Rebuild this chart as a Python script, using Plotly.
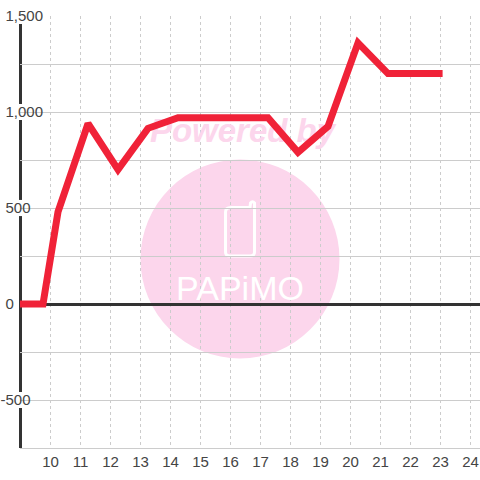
import plotly.graph_objects as go

hours = [8.88, 9.75, 10.25, 11.25, 12.25, 13.25, 14.25, 15.25, 16.25, 17.25, 18.25, 19.25, 20.25, 21.25, 22.25, 23.07]
values = [0, 0, 480, 940, 700, 915, 970, 970, 970, 970, 790, 925, 1360, 1200, 1200, 1200]
x_ticks = list(range(10, 25))
y_ticks = [-750, -500, -250, 0, 250, 500, 750, 1000, 1250, 1500]
NB = "\u00a0"
y_labels = ["", "-500" + NB * 3, "", "0" + NB * 7, "", "500" + NB * 3, "", "1,000", "", "1,500"]
boxed = {-500: 33, 0: 18, 500: 32, 1000: 45, 1500: 45}

W, H = 480, 480
L, R, T, B = 20, 0, 16, 32
PW, PH = W - L - R, H - T - B
px = lambda v: (v - L) / PW
py = lambda v: (H - B - v) / PH
dx = lambda v: 10 + (v - 50.5) / 30
dy = lambda v: (304 - v) / 96 * 500
PINK = "#fcd6ec"

phone = [("M", 231, 207.5), ("L", 250, 207.5), ("L", 250.5, 203), ("Q", 252.5, 200.5, 254.5, 203), ("L", 254.5, 252),
         ("Q", 254.5, 256, 250, 256), ("L", 230, 256), ("Q", 225.5, 256, 225.5, 252), ("L", 225.5, 212), ("Q", 225.5, 207.5, 231, 207.5)]
path = ""
for seg in phone:
    coords = seg[1:]
    pts = [f"{px(coords[i])},{py(coords[i + 1])}" for i in range(0, len(coords), 2)]
    path += seg[0] + " ".join(pts) + " "

shapes = [
    dict(type="circle", xref="paper", yref="paper", layer="below", x0=px(140.5), x1=px(339.5), y0=py(358.5), y1=py(159.5), fillcolor=PINK, line_width=0),
    dict(type="path", xref="paper", yref="paper", layer="below", line=dict(color="white", width=3), path=path.strip()),
    dict(type="line", xref="paper", yref="paper", layer="between", x0=px(20.5), x1=px(20.5), y0=py(448), y1=py(16), line=dict(color="#333333", width=3)),
]
for v, right in boxed.items():
    shapes.append(dict(type="rect", xref="paper", yref="y", layer="between", x0=px(0), x1=px(right), y0=v - 42, y1=v + 42, fillcolor="white", line_width=0))

fig = go.Figure()
fig.add_trace(go.Scatter(x=[dx(242.5)], y=[dy(134)], mode="text", text=["<b><i>Powered by</i></b>"], textposition="middle center",
                         textfont=dict(family="Liberation Sans", size=33, color=PINK), hoverinfo="skip", showlegend=False))
fig.add_trace(go.Scatter(x=[dx(240)], y=[dy(291)], mode="text", text=["PAPiMO"], textposition="middle center",
                         textfont=dict(family="Liberation Sans", size=34, color="white"), hoverinfo="skip", showlegend=False))
fig.add_trace(go.Scatter(x=hours, y=values, mode="lines", line=dict(color="#f02238", width=7), cliponaxis=False, showlegend=False))

fig.update_layout(
    width=W, height=H, margin=dict(l=L, r=R, t=T, b=B), paper_bgcolor="white", plot_bgcolor="rgba(0,0,0,0)",
    shapes=shapes, showlegend=False,
    xaxis=dict(range=[dx(20), dx(480)], tickmode="array", tickvals=x_ticks, ticktext=[str(v) for v in x_ticks],
               showgrid=True, gridcolor="#cccccc", griddash="3px,3px", gridwidth=1, zeroline=False, showline=True, linecolor="#cccccc", linewidth=1,
               ticks="", tickfont=dict(family="Liberation Sans", size=15, color="#444444")),
    yaxis=dict(range=[-750, 1500], tickmode="array", tickvals=y_ticks, ticktext=y_labels,
               showgrid=True, gridcolor="#cccccc", gridwidth=1, zeroline=True, zerolinecolor="#333333", zerolinewidth=3, showline=False,
               ticks="", ticklabelstandoff=-24, automargin=False, tickfont=dict(family="Liberation Sans", size=15, color="#444444")),
)
fig.write_html("out.html", config=dict(displayModeBar=False),
               post_script="document.documentElement.style.overflow='hidden';document.body.style.margin='0';")
